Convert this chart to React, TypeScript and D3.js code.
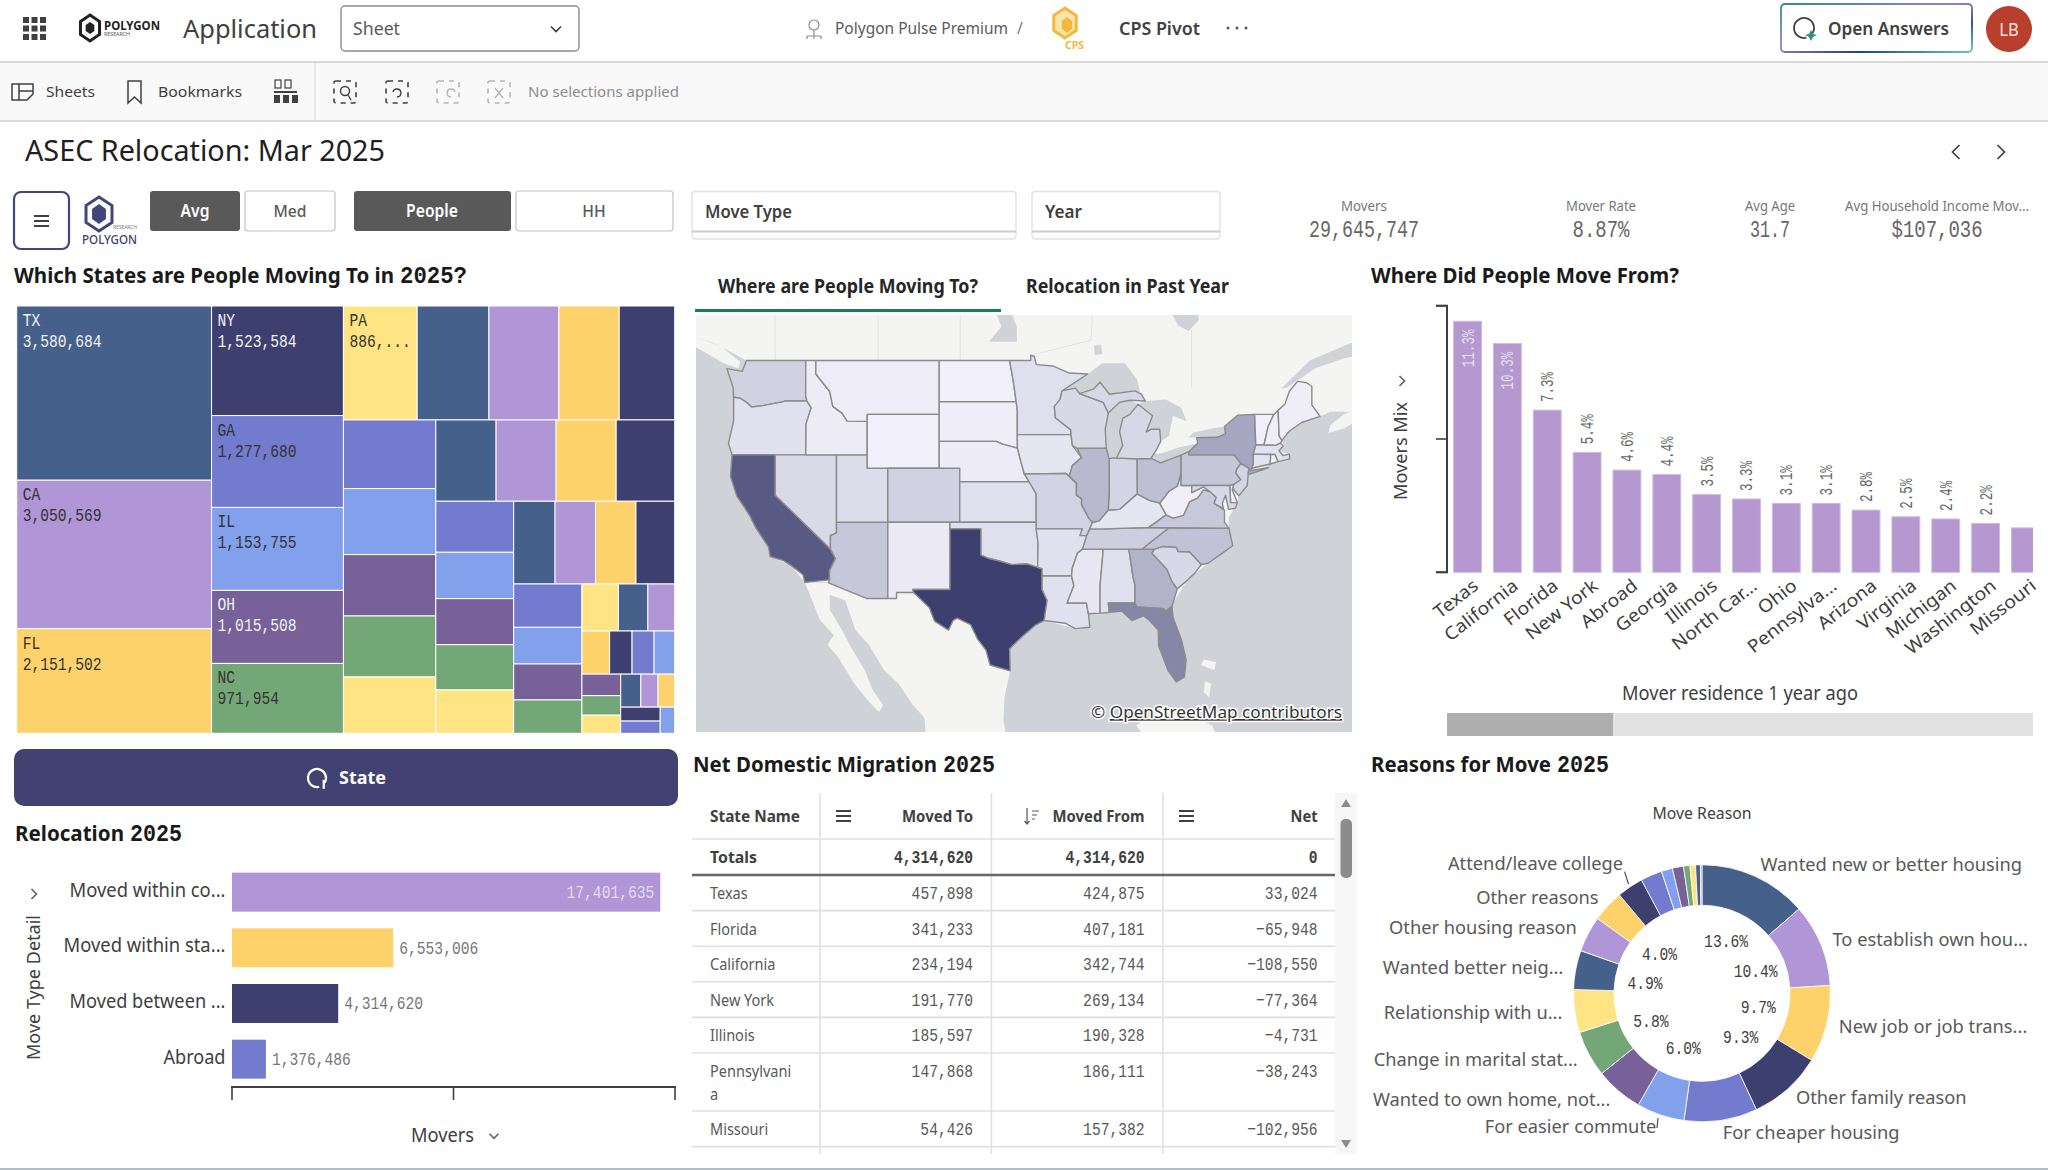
import React from 'react';
import * as d3 from 'd3';

const SANS = '"Noto Sans", sans-serif';
const MONO = '"Liberation Mono", monospace';

// Treemap: movers by state, biggest first
const stateCodes = ['TX', 'CA', 'FL', 'NY', 'GA', 'IL', 'OH', 'NC', 'PA', 'AZ', 'VA', 'TN', 'WA', 'CO', 'MO', 'NJ', 'IN', 'MI', 'WI', 'SC', 'MD', 'NV', 'UT', 'MN', 'KS', 'OK', 'OR', 'AL', 'LA', 'AR', 'MA', 'CT', 'KY', 'IA', 'MS', 'NM', 'ID', 'NE', 'MT', 'SD', 'ME', 'NH', 'WV', 'RI', 'DE', 'HI', 'ND', 'VT', 'AK', 'WY', 'DC'];
const stateMovers = [3580684, 3050569, 2151502, 1523584, 1277680, 1153755, 1015508, 971954, 886412, 862000, 841000, 725000, 667000, 669000, 643000, 598000, 594000, 549000, 517000, 515000, 515000, 502000, 419000, 381000, 378000, 372000, 356000, 361000, 353000, 353000, 338000, 312000, 264000, 259000, 240000, 181000, 146000, 133000, 126000, 102000, 100000, 94000, 88000, 80000, 74000, 70000, 60000, 58000, 58000, 51000, 40000];
const labelledStates = 9;
// order in which the tiles are cut off the remaining space
const stripPlan: [string, number][] = [['col', 3], ['col', 5], ['row', 5], ['col', 5], ['row', 4], ['col', 5], ['row', 4], ['col', 4], ['row', 3], ['row', 4], ['col', 3], ['row', 3], ['col', 2], ['col', 1]];
const palette = ['#46608c', '#b096d6', '#fdd26a', '#3d3f6e', '#727bcd', '#82a0ec', '#786099', '#73a778', '#ffe483'];

// Bars: where people moved from
const fromStates = ['Texas', 'California', 'Florida', 'New York', 'Abroad', 'Georgia', 'Illinois', 'North Car...', 'Ohio', 'Pennsylva...', 'Arizona', 'Virginia', 'Michigan', 'Washington', 'Missouri'];
const fromMix = [11.3, 10.3, 7.3, 5.4, 4.6, 4.4, 3.5, 3.3, 3.1, 3.1, 2.8, 2.5, 2.4, 2.2, 2.0];
const mixTicks = [0, 6, 12];

// Relocation type
const moveTypes = ['Moved within co...', 'Moved within sta...', 'Moved between ...', 'Abroad'];
const moveValues = [17401635, 6553006, 4314620, 1376486];
const moveTicks = [0, 9000000, 18000000];

// Net migration table
const tableStates = ['Texas', 'Florida', 'California', 'New York', 'Illinois', 'Pennsylvani\na', 'Missouri'];
const movedTo = [457898, 341233, 234194, 191770, 185597, 147868, 54426];
const movedFrom = [424875, 407181, 342744, 269134, 190328, 186111, 157382];
const netMoves = [33024, -65948, -108550, -77364, -4731, -38243, -102956];
const tableTotals = ['4,314,620', '4,314,620', '0'];

// Donut: reasons for move
const reasonShares = [13.6, 10.4, 9.7, 9.3, 9.2, 6.0, 6.0, 5.8, 5.4, 4.9, 4.5, 4.0, 3.3, 2.7, 1.4, 1.4, 0.8, 0.7, 0.6, 0.2];
const reasonLabels = ['Wanted new or better housing', 'To establish own hou...', 'New job or job trans...', 'Other family reason', 'For cheaper housing', 'For easier commute', 'Wanted to own home, not...', 'Change in marital stat...', 'Relationship with u...', 'Wanted better neig...', 'Other housing reason', 'Other reasons', 'Attend/leave college'];
const reasonPctShown = [true, true, true, true, false, true, false, true, false, true, false, true];

// KPIs
const kpiLabels = ['Movers', 'Mover Rate', 'Avg Age', 'Avg Household Income Mov...'];
const kpiValues = ['29,645,747', '8.87%', '31.7', '$107,036'];

// Simplified outlines, lon/lat
const statePolys: Record<string, number[][][]> = {
  WA: [[[-124.7, 48.4], [-123.2, 48.2], [-122.8, 49], [-117.03, 49], [-117.04, 46.4], [-116.92, 46], [-118.98, 46], [-119.3, 45.93], [-121.2, 45.65], [-122.3, 45.55], [-122.8, 45.9], [-123.4, 46.2], [-124.05, 46.27], [-124.1, 47]]],
  OR: [[[-124.05, 46.27], [-123.4, 46.2], [-122.8, 45.9], [-122.3, 45.55], [-121.2, 45.65], [-119.3, 45.93], [-118.98, 46], [-116.92, 46], [-116.5, 45.5], [-117, 44.3], [-117.03, 42], [-124.2, 42], [-124.55, 42.85], [-124.05, 44.5]]],
  CA: [[[-124.2, 42], [-120, 42], [-120, 39], [-114.63, 35], [-114.14, 34.3], [-114.72, 33.4], [-114.72, 32.72], [-117.12, 32.53], [-117.3, 33.1], [-118.4, 33.75], [-119.2, 34.15], [-120.5, 34.45], [-120.65, 35.15], [-121.9, 36.6], [-122.5, 37.5], [-123, 38.1], [-123.75, 38.95], [-124.35, 40.4]]],
  NV: [[[-120, 42], [-114.04, 42], [-114.04, 36.2], [-114.63, 36], [-114.63, 35], [-120, 39]]],
  AZ: [[[-114.63, 36], [-114.04, 36.2], [-114.04, 37], [-109.05, 37], [-109.05, 31.33], [-111.07, 31.33], [-114.81, 32.5], [-114.72, 32.72], [-114.72, 33.4], [-114.14, 34.3], [-114.63, 35]]],
  UT: [[[-114.04, 42], [-111.05, 42], [-111.05, 41], [-109.05, 41], [-109.05, 37], [-114.04, 37]]],
  ID: [[[-117.03, 49], [-116.05, 49], [-116.05, 48], [-114.7, 46.7], [-114.4, 45.6], [-113.5, 45.1], [-113, 44.5], [-111.05, 44.48], [-111.05, 42], [-117.03, 42], [-117, 44.3], [-116.5, 45.5], [-116.92, 46], [-117.04, 46.4]]],
  MT: [[[-116.05, 49], [-104.05, 49], [-104.05, 45], [-111.05, 45], [-111.05, 44.48], [-113, 44.5], [-113.5, 45.1], [-114.4, 45.6], [-114.7, 46.7], [-116.05, 48]]],
  WY: [[[-111.05, 45], [-104.05, 45], [-104.05, 41], [-111.05, 41]]],
  CO: [[[-109.05, 41], [-102.05, 41], [-102.05, 37], [-109.05, 37]]],
  NM: [[[-109.05, 37], [-103, 37], [-103, 32], [-106.62, 32], [-106.53, 31.78], [-108.2, 31.78], [-108.2, 31.33], [-109.05, 31.33]]],
  ND: [[[-104.05, 49], [-97.2, 49], [-96.85, 47.5], [-96.56, 45.94], [-104.05, 45.94]]],
  SD: [[[-104.05, 45.94], [-96.56, 45.94], [-96.45, 45.3], [-96.45, 43.5], [-96.44, 42.5], [-97.9, 42.8], [-98.5, 43], [-104.05, 43]]],
  NE: [[[-104.05, 43], [-98.5, 43], [-97.9, 42.8], [-96.44, 42.5], [-96.1, 41.5], [-95.77, 40.58], [-95.3, 40], [-102.05, 40], [-102.05, 41], [-104.05, 41]]],
  KS: [[[-102.05, 40], [-95.3, 40], [-94.62, 39.1], [-94.62, 37], [-102.05, 37]]],
  OK: [[[-103, 37], [-94.62, 37], [-94.43, 35.4], [-94.48, 33.64], [-95.5, 33.9], [-97, 33.85], [-98.1, 34.1], [-99.2, 34.3], [-100, 34.56], [-100, 36.5], [-103, 36.5]]],
  TX: [[[-106.62, 32], [-103, 32], [-103, 36.5], [-100, 36.5], [-100, 34.56], [-99.2, 34.3], [-98.1, 34.1], [-97, 33.85], [-95.5, 33.9], [-94.48, 33.64], [-94.04, 33.55], [-94.04, 31.99], [-93.55, 31.2], [-93.84, 29.7], [-94.7, 29.35], [-96, 28.5], [-97.2, 27.6], [-97.15, 25.96], [-99.1, 26.4], [-99.5, 27.5], [-100.3, 28.3], [-101, 29.4], [-102.3, 29.88], [-102.7, 29.7], [-103.15, 28.98], [-104.5, 29.65], [-105, 30.65], [-106.53, 31.78]]],
  MN: [[[-97.2, 49], [-95.15, 49], [-95.15, 49.4], [-94.8, 49.3], [-94.6, 48.7], [-93, 48.6], [-91.4, 48.07], [-89.6, 48], [-92.1, 46.75], [-92.3, 46.1], [-92.85, 45.6], [-92.75, 44.75], [-91.25, 43.85], [-91.22, 43.5], [-96.45, 43.5], [-96.45, 45.3], [-96.56, 45.94], [-96.85, 47.5]]],
  IA: [[[-96.45, 43.5], [-91.22, 43.5], [-91.1, 42.7], [-90.2, 41.8], [-91.1, 41.2], [-91.4, 40.4], [-91.73, 40.61], [-95.77, 40.58], [-96.1, 41.5], [-96.44, 42.5]]],
  MO: [[[-95.77, 40.58], [-91.73, 40.61], [-91.4, 40.4], [-90.7, 39.9], [-90.7, 39], [-90.2, 38.75], [-90.2, 38.3], [-89.5, 37.3], [-89.15, 36.98], [-89.4, 36.5], [-89.7, 36], [-90.37, 36], [-90.15, 36.5], [-94.62, 36.5], [-94.62, 39.1], [-95.3, 40]]],
  AR: [[[-94.62, 36.5], [-90.15, 36.5], [-90.37, 36], [-89.7, 36], [-90.1, 35], [-90.6, 34.7], [-91.1, 33.6], [-91.17, 33], [-94.04, 33], [-94.04, 33.55], [-94.48, 33.64], [-94.43, 35.4]]],
  LA: [[[-94.04, 33], [-91.17, 33], [-90.95, 32.3], [-91.6, 31], [-89.73, 31], [-89.53, 30.2], [-89.4, 29.2], [-90.8, 29.1], [-91.8, 29.5], [-93.84, 29.7], [-93.55, 31.2], [-94.04, 31.99]]],
  MS: [[[-90.1, 35], [-88.2, 35], [-88.1, 34.9], [-88.4, 32.3], [-88.4, 30.25], [-89.53, 30.2], [-89.73, 31], [-91.6, 31], [-90.95, 32.3], [-91.17, 33], [-91.1, 33.6], [-90.6, 34.7]]],
  AL: [[[-88.2, 35], [-85.6, 35], [-85.18, 32.87], [-85, 32.3], [-85, 31], [-87.6, 31], [-87.5, 30.3], [-88.4, 30.25], [-88.4, 32.3], [-88.1, 34.9]]],
  GA: [[[-85.6, 35], [-83.1, 35], [-83.35, 34.7], [-81.9, 33.5], [-81.4, 32.6], [-80.9, 32.05], [-81.4, 30.75], [-82.05, 30.36], [-82.2, 30.57], [-84.86, 30.7], [-85, 31], [-85, 32.3], [-85.18, 32.87]]],
  FL: [[[-87.6, 31], [-85, 31], [-84.86, 30.7], [-82.2, 30.57], [-82.05, 30.36], [-81.4, 30.75], [-81.3, 29.9], [-80.5, 28.3], [-80.03, 26.8], [-80.2, 25.5], [-81, 25.15], [-81.8, 26], [-82.7, 27.8], [-82.75, 29], [-83.6, 29.7], [-84.2, 30.05], [-85.3, 29.7], [-86.3, 30.4], [-87.5, 30.3]]],
  SC: [[[-83.35, 34.7], [-83.1, 35], [-82.3, 35.2], [-81, 35.15], [-80.8, 34.82], [-79.7, 34.8], [-78.55, 33.86], [-79.2, 33.2], [-79.9, 32.7], [-80.9, 32.05], [-81.4, 32.6], [-81.9, 33.5]]],
  NC: [[[-84.32, 35], [-83.1, 35.75], [-81.68, 36.59], [-75.87, 36.55], [-75.5, 35.25], [-76.5, 34.7], [-77.9, 33.95], [-78.55, 33.86], [-79.7, 34.8], [-80.8, 34.82], [-81, 35.15], [-82.3, 35.2], [-83.1, 35]]],
  TN: [[[-89.4, 36.5], [-88.05, 36.5], [-83.68, 36.6], [-81.68, 36.59], [-83.1, 35.75], [-84.32, 35], [-85.6, 35], [-88.2, 35], [-90.1, 35], [-89.7, 36]]],
  KY: [[[-89.4, 36.5], [-89.15, 36.98], [-88.5, 37.1], [-87.6, 37.9], [-86.5, 37.95], [-85.4, 38.7], [-84.8, 39.1], [-83.7, 38.65], [-82.6, 38.42], [-81.97, 37.54], [-83.68, 36.6], [-88.05, 36.5]]],
  VA: [[[-83.68, 36.6], [-81.97, 37.54], [-81.3, 37.3], [-80.3, 37.5], [-79.7, 38.5], [-78.9, 38.8], [-78.35, 39.4], [-77.75, 39.3], [-77.1, 38.85], [-77.3, 38.4], [-76.3, 37.9], [-76.3, 37], [-75.87, 36.55], [-81.68, 36.59]]],
  WV: [[[-82.6, 38.42], [-82.1, 38.9], [-81.7, 39.3], [-80.87, 39.7], [-80.52, 40.64], [-80.52, 39.72], [-79.48, 39.72], [-79.48, 39.2], [-78.35, 39.63], [-77.75, 39.3], [-78.35, 39.4], [-78.9, 38.8], [-79.7, 38.5], [-80.3, 37.5], [-81.3, 37.3], [-81.97, 37.54]]],
  OH: [[[-84.82, 41.7], [-83.45, 41.73], [-82.5, 41.4], [-81.3, 41.75], [-80.52, 41.98], [-80.52, 40.64], [-80.87, 39.7], [-81.7, 39.3], [-82.1, 38.9], [-82.6, 38.42], [-83.7, 38.65], [-84.8, 39.1]]],
  IN: [[[-87.52, 41.7], [-87.2, 41.76], [-86.8, 41.76], [-84.82, 41.7], [-84.8, 39.1], [-85.4, 38.7], [-86.5, 37.95], [-87.6, 37.9], [-87.52, 39.3]]],
  IL: [[[-90.65, 42.5], [-87.8, 42.5], [-87.52, 41.7], [-87.52, 39.3], [-87.6, 37.9], [-88.5, 37.1], [-89.15, 36.98], [-89.5, 37.3], [-90.2, 38.3], [-90.2, 38.75], [-90.7, 39], [-90.7, 39.9], [-91.4, 40.4], [-91.1, 41.2], [-90.2, 41.8]]],
  WI: [[[-92.1, 46.75], [-90.8, 46.95], [-90.4, 46.55], [-88.1, 45.9], [-87.6, 45.1], [-87.9, 43.9], [-87.8, 42.5], [-90.65, 42.5], [-91.1, 42.7], [-91.22, 43.5], [-91.25, 43.85], [-92.75, 44.75], [-92.85, 45.6], [-92.3, 46.1]]],
  MI: [
    [[-90.4, 46.55], [-89, 46.9], [-88.4, 47.4], [-87.5, 46.5], [-85, 46.75], [-84.4, 46.5], [-84, 46], [-85.5, 46.05], [-86.5, 45.9], [-87.6, 45.1], [-88.1, 45.9]],
    [[-86.8, 41.76], [-84.82, 41.7], [-83.45, 41.73], [-82.9, 42.4], [-82.5, 43], [-82.6, 43.9], [-83.4, 43.9], [-83.9, 43.7], [-83.3, 44.9], [-84.7, 45.75], [-85.5, 45], [-86.2, 44.7], [-86.5, 43.7], [-86.2, 42.7]],
  ],
  PA: [[[-80.52, 41.98], [-79.76, 42.25], [-79.76, 42], [-75.35, 42], [-74.7, 41.35], [-75.1, 40.95], [-75.2, 40.65], [-74.72, 40.15], [-75.4, 39.8], [-75.79, 39.72], [-80.52, 39.72], [-80.52, 40.64]]],
  NY: [[[-79.76, 42.25], [-78.9, 42.85], [-79, 43.27], [-77, 43.3], [-76.2, 43.55], [-76.3, 44.1], [-75, 44.95], [-73.35, 45], [-73.3, 43.6], [-73.25, 42.75], [-73.5, 42.05], [-73.5, 41.3], [-73.65, 41], [-73.75, 40.85], [-72, 41.05], [-73.9, 40.55], [-74, 40.7], [-73.9, 41], [-74.7, 41.35], [-75.35, 42], [-79.76, 42]]],
  NJ: [[[-74.7, 41.35], [-73.9, 41], [-74, 40.7], [-74, 40.4], [-74.1, 39.7], [-74.9, 38.95], [-75.5, 39.5], [-75.4, 39.8], [-74.72, 40.15], [-75.2, 40.65], [-75.1, 40.95]]],
  DE: [[[-75.79, 39.72], [-75.4, 39.8], [-75.55, 39.4], [-75.05, 38.45], [-75.7, 38.46]]],
  MD: [[[-79.48, 39.72], [-75.79, 39.72], [-75.7, 38.46], [-75.05, 38.45], [-75.24, 38.03], [-75.9, 37.95], [-76.2, 39], [-76.5, 38.4], [-76.4, 38], [-77.3, 38.4], [-77.1, 38.85], [-77.75, 39.3], [-78.35, 39.63], [-79.48, 39.2]]],
  VT: [[[-73.35, 45], [-71.5, 45], [-72.05, 44.1], [-72.46, 42.73], [-73.25, 42.75], [-73.3, 43.6]]],
  NH: [[[-71.5, 45], [-71.08, 45.3], [-70.98, 43.4], [-70.7, 43.07], [-70.85, 42.87], [-71.3, 42.7], [-72.46, 42.73], [-72.05, 44.1]]],
  ME: [[[-71.08, 45.3], [-70.4, 45.8], [-70, 46.7], [-69.2, 47.45], [-68.3, 47.35], [-67.8, 47.07], [-67.8, 45.7], [-67, 44.85], [-68.8, 44.4], [-70, 43.75], [-70.7, 43.07], [-70.98, 43.4]]],
  MA: [[[-73.5, 42.05], [-73.25, 42.75], [-71.3, 42.7], [-70.85, 42.87], [-70.6, 42.65], [-71, 42.3], [-70.6, 41.95], [-70, 42.05], [-69.95, 41.7], [-71.1, 41.5], [-71.38, 42.02]]],
  CT: [[[-73.5, 42.05], [-71.8, 42.02], [-71.85, 41.32], [-73.65, 41], [-73.5, 41.3]]],
  RI: [[[-71.8, 42.02], [-71.38, 42.02], [-71.1, 41.5], [-71.85, 41.32]]],
};

const landPolys: number[][][] = [
  [[-130, 54], [-62, 54], [-62, 45.3], [-64.5, 45.2], [-66, 45.2], [-67, 44.85], [-68.8, 44.4], [-70, 43.75], [-70.7, 43.07], [-70.6, 42.65], [-71, 42.3], [-70, 42.05], [-69.95, 41.7], [-71.85, 41.32], [-73.9, 40.55], [-74, 39.9], [-74.9, 38.95], [-75.05, 38.45], [-75.9, 37.3], [-75.87, 36.55], [-75.5, 35.25], [-77.9, 33.95], [-79.9, 32.7], [-81.3, 31], [-81.3, 29.9], [-80.03, 26.8], [-80.2, 25.5], [-81, 25.15], [-81.8, 26], [-82.7, 27.8], [-82.75, 29], [-84.2, 30.05], [-85.3, 29.7], [-86.3, 30.4], [-88.4, 30.25], [-89.53, 30.2], [-89.4, 29.2], [-90.8, 29.1], [-93.84, 29.7], [-94.7, 29.35], [-96, 28.5], [-97.2, 27.6], [-97.15, 25.96], [-97.7, 24], [-97.8, 22.3], [-97.5, 21], [-105.3, 21], [-105.5, 22.5], [-106.6, 23.4], [-108, 25], [-109.4, 26], [-110.9, 27.9], [-112.2, 29], [-113.2, 31.2], [-114.7, 31.6], [-114.7, 30.5], [-113.5, 29], [-112.7, 27.8], [-111.3, 26], [-110.5, 24.5], [-109.5, 23.4], [-109.9, 22.9], [-110.8, 23.6], [-112.3, 25], [-113.9, 27], [-114.9, 27.9], [-114.3, 28.6], [-115.7, 29.8], [-116.3, 31], [-117.12, 32.53], [-118.4, 33.75], [-120.5, 34.45], [-120.65, 35.15], [-121.9, 36.6], [-122.5, 37.5], [-123.75, 38.95], [-124.35, 40.4], [-124.2, 42], [-124.55, 42.85], [-124.05, 44.5], [-124.1, 47], [-124.7, 48.4], [-123.2, 48.2], [-122.8, 49], [-124.5, 49.7], [-126, 50.3], [-128, 50.8], [-130, 52]],
  [[-125, 48.8], [-123.6, 48.4], [-123.4, 48.9], [-125.2, 50], [-127.8, 50.8], [-128.4, 50.3]],
  [[-66.2, 43.6], [-64.6, 44], [-63, 44.7], [-62, 45.2], [-63.5, 45.4], [-64.7, 45], [-66, 44.2]],
  [[-84.9, 21.9], [-82.5, 23.15], [-80.5, 23.05], [-77.5, 21.9], [-77, 21], [-84, 21]],
  [[-78.3, 26.8], [-77.1, 26.6], [-77.3, 26], [-78.6, 26.4]],
  [[-78.2, 25.2], [-77.6, 25], [-77.8, 24], [-78.3, 24.4]],
];

const waterPolys: number[][][] = [
  // great lakes
  [[-92.1, 46.75], [-89.6, 48], [-88.2, 48.8], [-86, 48.8], [-84.8, 47.6], [-84.5, 46.6], [-85, 46.75], [-87.5, 46.5], [-88.4, 47.4], [-89, 46.9], [-90.4, 46.55]],
  [[-87.8, 42.5], [-87.52, 41.7], [-86.8, 41.76], [-86.2, 42.7], [-86.5, 43.7], [-86.2, 44.7], [-85.5, 45], [-84.7, 45.75], [-85.5, 46.05], [-86.5, 45.9], [-87.6, 45.1], [-87.9, 43.9]],
  [[-84.7, 45.75], [-83.3, 44.9], [-83.9, 43.7], [-83.4, 43.9], [-82.6, 43.9], [-82.5, 43], [-81.7, 43.4], [-81.3, 44.9], [-80, 44.5], [-80.5, 45.5], [-82, 46.1], [-84, 46]],
  [[-83.45, 41.73], [-82.5, 41.4], [-81.3, 41.75], [-80.52, 41.98], [-79, 42.7], [-78.9, 42.85], [-80.5, 42.6], [-82.5, 42.1], [-83.1, 42.1]],
  [[-79, 43.27], [-77, 43.3], [-76.2, 43.55], [-76.3, 44.1], [-77.5, 43.95], [-79.3, 43.65], [-79.8, 43.3]],
  // canadian water
  [[-88.9, 49.4], [-88.2, 49.5], [-88.3, 50.2], [-89, 50.1]],
  [[-99.2, 50.4], [-96.5, 50.4], [-96.5, 51.5], [-97.5, 53.5], [-99, 53.5], [-98, 51.5]],
  [[-80.6, 54], [-79, 54], [-78.8, 52], [-79.8, 51.2], [-80.8, 51.6], [-81.8, 53]],
  [[-123, 54], [-121.8, 54], [-122.4, 53]],
  [[-62, 50.6], [-64, 50.3], [-68, 49], [-70.8, 46.9], [-70.2, 47], [-67.5, 48.4], [-64.5, 49.2], [-62, 49.5]],
];

const faintLines: number[][][] = [
  [[-120, 49], [-120, 54]], [[-110, 49], [-110, 54]], [[-102, 49], [-102, 54]], [[-95.15, 49.4], [-89.3, 50.5], [-89, 54]], [[-79.5, 47], [-79.5, 51.3]],
  [[-117.12, 32.53], [-114.81, 32.5], [-111.07, 31.33], [-108.2, 31.33]],
];

// Page geometry
const treeBox = { x: 16.7, y: 306, w: 658, h: 427.3 };
const lonScale = d3.scaleLinear().domain([-109.05, -64.05]).range([887.8, 1350.4]);
const latScale = d3.scaleLinear().domain([41, 21]).range([468.3, 737.7]);
const mapPath = d3.geoPath(d3.geoTransform({
  point(lon: number, lat: number) {
    (this as any).stream.point(lonScale(lon), latScale(lat));
  },
}));
const closed = (r: number[][]) => [...r, r[0]];
const polyD = (r: number[][]) => mapPath({ type: 'Polygon', coordinates: [closed(r)] } as any) || '';
const lineD = (r: number[][]) => mapPath({ type: 'LineString', coordinates: r } as any) || '';

// cuts the tiles strip by strip, the way the reference lays them out
function stripTile(node: any, x0: number, y0: number, x1: number, y1: number) {
  let left = node.value;
  let at = 0;
  let ax = x0;
  let ay = y0;
  stripPlan.forEach(([dir, n]) => {
    const group = node.children.slice(at, at + n);
    const value = d3.sum(group, (c: any) => c.value);
    if (dir === 'col') {
      const w = ((x1 - ax) * value) / left;
      d3.treemapSlice({ children: group, value } as any, ax, ay, ax + w, y1);
      ax += w;
    } else {
      const h = ((y1 - ay) * value) / left;
      d3.treemapDice({ children: group, value } as any, ax, ay, x1, ay + h);
      ay += h;
    }
    at += n;
    left -= value;
  });
}

const treeRoot = d3
  .treemap<any>()
  .size([treeBox.w, treeBox.h])
  .tile(stripTile as any)(
    d3.hierarchy<any>({ children: stateCodes.map((code, i) => ({ code, value: stateMovers[i] })) }).sum((d: any) => d.value || 0),
  );

const fmt = d3.format(',');
const moverByCode = new Map(stateCodes.map((c, i) => [c, stateMovers[i]]));
const choropleth = d3.scaleLinear<string>().domain([0, d3.max(stateMovers) as number]).range(['#f3f2fc', '#3d3f6e']);
const textOn = (fill: string) => (d3.lab(fill).l > 50 ? '#333333' : '#f2f2f2');

type TProps = {
  x: number; y: number; size?: number; fill?: string; anchor?: string; weight?: number;
  sx?: number; w?: number; rotate?: number; family?: string; children?: React.ReactNode;
};
const T = ({ x, y, size = 17, fill = '#404040', anchor = 'start', weight = 400, sx = 0.92, w, rotate = 0, family = SANS, children }: TProps) => (
  <text
    transform={`translate(${x},${y})${rotate ? ` rotate(${rotate})` : ''}${w ? '' : ` scale(${sx},1)`}`}
    fontSize={size}
    fontFamily={family}
    fontWeight={weight}
    fill={fill}
    textAnchor={anchor as any}
    textLength={w}
    lengthAdjust={w ? 'spacingAndGlyphs' : undefined}
  >
    {children}
  </text>
);

const Num = (p: TProps) => <T family={MONO} size={19} sx={0.77} fill="#595959" {...p} />;

// the year is a separate text so its digits can be monospaced
const Title = ({ x, y, w, text, year, yearW = 52 }: { x: number; y: number; w: number; text: string; year?: string; yearW?: number }) => (
  <g>
    <T x={x} y={y} w={year ? w - yearW - 6 : w} size={21} weight={700} fill="#1a1a1a">{text}</T>
    {year ? <T x={x + w - yearW} y={y} w={yearW} size={24} weight={700} family={MONO} fill="#1a1a1a">{year}</T> : null}
  </g>
);

const hex = (cx: number, cy: number, rx: number, ry: number) =>
  d3.range(6).map((i) => {
    const a = (Math.PI / 3) * i;
    return `${cx + rx * Math.sin(a)},${cy - ry * Math.cos(a)}`;
  }).join(' ');

const Chevron = ({ x, y, dir, size = 5, color = '#666666' }: { x: number; y: number; dir: string; size?: number; color?: string }) => {
  const d = {
    down: `M${x - size},${y - size / 2}L${x},${y + size / 2}L${x + size},${y - size / 2}`,
    right: `M${x - size / 2},${y - size}L${x + size / 2},${y}L${x - size / 2},${y + size}`,
    left: `M${x + size / 2},${y - size}L${x - size / 2},${y}L${x + size / 2},${y + size}`,
  }[dir];
  return <path d={d} fill="none" stroke={color} strokeWidth={1.7} />;
};

const Burger = ({ x, y, w = 15 }: { x: number; y: number; w?: number }) => (
  <g stroke="#404040" strokeWidth={2}>
    {[-5, 0, 5].map((d) => <line key={d} x1={x} x2={x + w} y1={y + d} y2={y + d} />)}
  </g>
);

const Reload = ({ cx, cy, r, color }: { cx: number; cy: number; r: number; color: string }) => (
  <g fill="none" stroke={color} strokeWidth={2.2}>
    <path d={d3.arc()({ innerRadius: r, outerRadius: r, startAngle: 2.9, endAngle: 2.9 + 5.5 } as any) || ''} transform={`translate(${cx},${cy})`} />
    <path d={`M${cx + r * 0.75},${cy + r * 0.2}v${r}`} />
  </g>
);

const DashBox = ({ x, color }: { x: number; color: string }) => (
  <rect x={x} y={81} width={22} height={22} rx={2} fill="none" stroke={color} strokeWidth={1.6} strokeDasharray="5 5" />
);

const Header = () => (
  <g>
    <g fill="#404040">
      {d3.range(9).map((i) => <rect key={i} x={23 + (i % 3) * 8.5} y={17 + Math.floor(i / 3) * 8.5} width={6} height={6} />)}
    </g>
    <polygon points={hex(90, 28, 11, 13)} fill="none" stroke="#222222" strokeWidth={3} />
    <polygon points={hex(90, 28, 5, 6)} fill="#222222" />
    <T x={104} y={30} size={13} w={56} weight={700} fill="#222222">POLYGON</T>
    <T x={104} y={36} size={6} w={26} fill="#555555">RESEARCH</T>
    <T x={183} y={38} size={26} w={134} fill="#404040">Application</T>
    <rect x={341} y={6} width={238} height={45} rx={4} fill="#ffffff" stroke="#8c8c8c" strokeWidth={1.4} />
    <T x={353} y={35} size={18} w={47} fill="#595959">Sheet</T>
    <Chevron x={556} y={29} dir="down" size={5} color="#404040" />

    <g fill="none" stroke="#8c8c8c" strokeWidth={1.2}>
      <circle cx={814} cy={25} r={5} />
      <path d="M814,30v6M807,36h14M807,36v3M814,36v3M821,36v3" />
    </g>
    <T x={835} y={34} size={16.5} w={173} fill="#5a5a5a">Polygon Pulse Premium</T>
    <T x={1017} y={34} size={17} fill="#777777">/</T>

    <polygon points={hex(1065, 23, 13, 15)} fill="#fbe3ac" stroke="#f2b840" strokeWidth={3} />
    <polygon points={hex(1067, 25, 6, 8)} fill="#f2b840" />
    <T x={1065} y={49} size={10} w={19} weight={700} fill="#f2b840">CPS</T>
    <T x={1119} y={35} size={18} w={81} weight={600} fill="#404040">CPS Pivot</T>
    <g fill="#555555">{[1228, 1237, 1246].map((x) => <circle key={x} cx={x} cy={28} r={1.5} />)}</g>

    <defs>
      <linearGradient id="answersEdge" x1="0" y1="0" x2="1" y2="1">
        <stop offset="0" stopColor="#2f8f83" />
        <stop offset="0.45" stopColor="#9a7fc9" />
        <stop offset="0.7" stopColor="#24466b" />
        <stop offset="1" stopColor="#62c9b4" />
      </linearGradient>
    </defs>
    <rect x={1781} y={4} width={191} height={48} rx={4} fill="#ffffff" stroke="url(#answersEdge)" strokeWidth={1.8} />
    <g fill="none" stroke="#404040" strokeWidth={1.8}>
      <path d={d3.arc()({ innerRadius: 10, outerRadius: 10, startAngle: 2.9, endAngle: 8.4 } as any) || ''} transform="translate(1804,28)" />
    </g>
    <path d="M1811,30l2,4l4,1l-4,2l-2,4l-2,-4l-4,-2l4,-1z" fill="#2f8f83" />
    <T x={1828} y={35} size={18} w={121} weight={600} fill="#404040">Open Answers</T>
    <circle cx={2009} cy={29} r={23} fill="#b83f2b" />
    <T x={2009} y={35.5} size={18} anchor="middle" fill="#f5e6e2">LB</T>
    <line x1={0} x2={2048} y1={62} y2={62} stroke="#d9d9d9" strokeWidth={2} />

    <rect x={0} y={63} width={2048} height={58} fill="#f9f9f9" />
    <line x1={0} x2={2048} y1={121} y2={121} stroke="#d9d9d9" strokeWidth={2} />
    <line x1={315} x2={315} y1={63} y2={121} stroke="#e0e0e0" strokeWidth={1.4} />
    <g fill="none" stroke="#404040" strokeWidth={1.5}>
      <path d="M12,84h21v10l-6,6h-15zM19,84v16M19,91h14" />
      <path d="M128,81h13v22l-6.5,-6l-6.5,6z" />
    </g>
    <T x={46} y={97} size={15} w={49} fill="#404040">Sheets</T>
    <T x={158} y={97} size={15} w={84} fill="#404040">Bookmarks</T>
    <g fill="#404040">
      <rect x={275} y={80} width={6} height={8} fill="none" stroke="#404040" strokeWidth={1.2} />
      <rect x={285} y={80} width={6} height={8} fill="none" stroke="#404040" strokeWidth={1.2} />
      <rect x={274} y={91} width={23} height={2} />
      {[274, 283, 292].map((x) => <rect key={x} x={x} y={95} width={6} height={8} />)}
    </g>
    <DashBox x={334} color="#404040" />
    <DashBox x={386} color="#404040" />
    <DashBox x={437} color="#b5b5b5" />
    <DashBox x={488} color="#b5b5b5" />
    <circle cx={345} cy={91} r={4.5} fill="none" stroke="#404040" strokeWidth={1.4} />
    <path d="M348,95l3,5" stroke="#404040" strokeWidth={1.4} />
    <path d="M393,92a4,4 0 1 1 4,5" fill="none" stroke="#404040" strokeWidth={1.4} />
    <path d="M455,92a4,4 0 1 0 -4,5" fill="none" stroke="#b5b5b5" strokeWidth={1.4} />
    <path d="M495,88l8,10M503,88l-8,10" stroke="#b5b5b5" strokeWidth={1.4} />
    <T x={528} y={97} size={15} w={151} fill="#8c8c8c">No selections applied</T>

    <T x={25} y={161} size={29} w={360} fill="#1f1f1f">ASEC Relocation: Mar 2025</T>
    <Chevron x={1956} y={152} dir="left" size={7} color="#404040" />
    <Chevron x={2001} y={152} dir="right" size={7} color="#404040" />

    <rect x={14} y={192} width={55} height={57} rx={7} fill="#ffffff" stroke="#44457a" strokeWidth={2.2} />
    <Burger x={34} y={221} />
    <polygon points={hex(99, 214, 15, 17)} fill="none" stroke="#44457a" strokeWidth={3} />
    <polygon points={hex(99, 214, 8, 10)} fill="#44457a" />
    <T x={82} y={244} size={12} w={55} fill="#3d3f6e" weight={500}>POLYGON</T>
    <T x={113} y={229} size={5} w={24} fill="#777777">RESEARCH</T>

    <rect x={150} y={191} width={90} height={40} rx={3} fill="#595959" />
    <T x={195} y={217} size={17} weight={600} anchor="middle" fill="#ffffff">Avg</T>
    <rect x={245} y={191} width={90} height={40} rx={3} fill="#ffffff" stroke="#c4c4c4" strokeWidth={1.2} />
    <T x={290} y={217} size={17} weight={500} anchor="middle" fill="#595959">Med</T>
    <rect x={354} y={191} width={157} height={40} rx={3} fill="#595959" />
    <T x={432} y={217} size={17} weight={600} anchor="middle" fill="#ffffff">People</T>
    <rect x={516} y={191} width={157} height={40} rx={3} fill="#ffffff" stroke="#c4c4c4" strokeWidth={1.2} />
    <T x={594} y={217} size={17} weight={500} anchor="middle" fill="#595959">HH</T>

    {[[692, 324, 'Move Type', 87], [1032, 188, 'Year', 37]].map(([x, w, label, tw]) => (
      <g key={label as string}>
        <rect x={x as number} y={191.5} width={w as number} height={47.5} rx={3} fill="#ffffff" stroke="#e2e2e2" strokeWidth={1.4} />
        <line x1={x as number} x2={(x as number) + (w as number)} y1={231.5} y2={231.5} stroke="#cccccc" strokeWidth={2} />
        <T x={(x as number) + 13} y={218} size={17} w={tw as number} weight={600} fill="#404040">{label}</T>
      </g>
    ))}

    {kpiLabels.map((label, i) => {
      const cx = [1364, 1601, 1770, 1937][i];
      return (
        <g key={label}>
          <T x={cx} y={211} size={14} w={[46, 70, 50, 184][i]} anchor="middle" fill="#777777">{label}</T>
          <T x={cx} y={237} size={24} w={[110, 57, 40, 91][i]} anchor="middle" family={MONO} fill="#666666">{kpiValues[i]}</T>
        </g>
      );
    })}
  </g>
);

const Treemap = () => (
  <g transform={`translate(${treeBox.x},${treeBox.y})`}>
    {(treeRoot.leaves() as any[]).map((leaf, i) => {
      const w = leaf.x1 - leaf.x0;
      const fill = palette[i % palette.length];
      const raw = fmt(leaf.data.value);
      const value = w < 90 ? `${raw.slice(0, 4)}...` : raw;
      return (
        <g key={leaf.data.code}>
          <rect x={leaf.x0} y={leaf.y0} width={w} height={leaf.y1 - leaf.y0} fill={fill} stroke="#ffffff" strokeWidth={1} />
          {i < labelledStates ? (
            <g>
              <Num x={leaf.x0 + 6} y={leaf.y0 + 20} fill={textOn(fill)}>{leaf.data.code}</Num>
              <Num x={leaf.x0 + 6} y={leaf.y0 + 41} fill={textOn(fill)}>{value}</Num>
            </g>
          ) : null}
        </g>
      );
    })}
  </g>
);

const MapPanel = () => (
  <g>
    <T x={718} y={293} size={19} w={260} weight={700} fill="#262626">Where are People Moving To?</T>
    <T x={1026} y={293} size={19} w={203} weight={700} fill="#262626">Relocation in Past Year</T>
    <rect x={695} y={309} width={306} height={3} fill="#1a7f4b" />
    <defs>
      <clipPath id="mapClip"><rect x={696} y={315} width={656} height={417} /></clipPath>
    </defs>
    <g clipPath="url(#mapClip)">
      <rect x={696} y={315} width={656} height={417} fill="#cfd3d8" />
      {landPolys.map((r, i) => <path key={i} d={polyD(r)} fill="#f4f4f2" />)}
      {waterPolys.map((r, i) => <path key={i} d={polyD(r)} fill="#cfd3d8" />)}
      {faintLines.map((r, i) => <path key={i} d={lineD(r)} fill="none" stroke="#e2e2e0" strokeWidth={1} />)}
      {Object.entries(statePolys).map(([code, rings]) => (
        <path
          key={code}
          d={rings.map(polyD).join('')}
          fill={choropleth(moverByCode.get(code) as number)}
          stroke="#8b8b8b"
          strokeWidth={1.4}
          strokeLinejoin="round"
        />
      ))}
    </g>
    <text x={1091} y={718} fontSize={17} fontFamily={SANS} fill="#333333" stroke="#ffffff" strokeWidth={3} paintOrder="stroke" textLength={251} lengthAdjust="spacingAndGlyphs">
      © <tspan textDecoration="underline">OpenStreetMap contributors</tspan>
    </text>
  </g>
);

const fromX = d3.scaleBand<string>().domain(fromStates).range([1447.6, 1447.6 + 39.85 * fromStates.length]).paddingInner(0.3).paddingOuter(0.15);
const fromY = d3.scaleLinear().domain([0, 12]).range([572.3, 305.7]);

const FromBars = () => (
  <g>
    <Title x={1371} y={283} w={308} text="Where Did People Move From?" />
    <defs>
      <clipPath id="fromClip"><rect x={1440} y={300} width={593} height={280} /></clipPath>
    </defs>
    <g clipPath="url(#fromClip)">
      {fromStates.map((s, i) => (
        <rect key={s} x={fromX(s)} y={fromY(fromMix[i])} width={fromX.bandwidth()} height={fromY(0) - fromY(fromMix[i])} fill="#b598d0" stroke="#cfbde0" strokeWidth={1} />
      ))}
    </g>
    {fromStates.map((s, i) => {
      const cx = (fromX(s) as number) + fromX.bandwidth() / 2;
      const inside = fromMix[i] > 9;
      return (
        <g key={s}>
          {i < fromStates.length - 1 ? (
            <T x={cx + 6} y={fromY(fromMix[i]) + (inside ? 46 : -8)} rotate={-90} family={MONO} size={18} sx={0.7} fill={inside ? '#e8dff2' : '#666666'}>
              {fromMix[i].toFixed(1)}%
            </T>
          ) : null}
          <T x={cx + 12} y={588} rotate={-38} size={18} sx={1.08} anchor="end" fill="#404040">{s}</T>
        </g>
      );
    })}
    <path d={`M1436,${fromY(12)}H1447V${fromY(0)}H1436`} fill="none" stroke="#404040" strokeWidth={2} />
    {mixTicks.map((t) => <line key={t} x1={1436} x2={1447} y1={fromY(t)} y2={fromY(t)} stroke="#404040" strokeWidth={1.6} />)}
    <T x={1407} y={500} rotate={-90} size={18} w={98} fill="#404040">Movers Mix</T>
    <Chevron x={1402} y={381} dir="right" size={5} />
    <T x={1622} y={700} size={19} w={236} fill="#404040">Mover residence 1 year ago</T>
    <rect x={1447} y={713} width={586} height={23} fill="#e2e2e2" />
    <rect x={1447} y={713} width={166} height={23} fill="#aeaeae" />
  </g>
);

const moveY = d3.scaleBand<string>().domain(moveTypes).range([864.3, 1087]).paddingInner(0.3).paddingOuter(0.15);
const moveX = d3.scaleLinear().domain([0, 18000000]).range([232, 675]);
const moveColors = [palette[1], palette[2], palette[3], palette[4]];

const MoveBars = () => (
  <g>
    <rect x={14} y={749} width={664} height={57} rx={10} fill="#424272" />
    <Reload cx={317} cy={778} r={9} color="#ffffff" />
    <T x={339} y={784} size={18} w={47} weight={700} fill="#ffffff">State</T>
    <Title x={15} y={841} w={167} text="Relocation" year="2025" />
    {moveTypes.map((m, i) => {
      const y = moveY(m) as number;
      const h = moveY.bandwidth();
      const end = moveX(moveValues[i]);
      const big = i === 0;
      return (
        <g key={m}>
          <rect x={moveX(0)} y={y} width={end - moveX(0)} height={h} fill={moveColors[i]} />
          <T x={225.5} y={y + h / 2 + 4.5} size={19} w={[156, 162, 156, 62][i]} anchor="end" fill="#404040">{m}</T>
          <Num x={big ? end - 6 : end + 6} y={y + h / 2 + 6} anchor={big ? 'end' : 'start'} fill={big ? '#e4daf2' : '#777777'}>{fmt(moveValues[i])}</Num>
        </g>
      );
    })}
    <line x1={moveX(0) - 1} x2={moveX(18000000) + 1} y1={1087} y2={1087} stroke="#404040" strokeWidth={2} />
    {moveTicks.map((t) => <line key={t} x1={moveX(t)} x2={moveX(t)} y1={1087} y2={1100} stroke="#404040" strokeWidth={1.6} />)}
    <T x={40} y={1060} rotate={-90} size={18} w={145} fill="#404040">Move Type Detail</T>
    <Chevron x={34} y={894} dir="right" size={5} />
    <T x={411} y={1142} size={19} w={63} fill="#404040">Movers</T>
    <Chevron x={494} y={1136} dir="down" size={4.5} />
  </g>
);

const tableRowH = (name: string) => (name.includes('\n') ? 58 : 35.6);
const tableCols = [973, 1144.5, 1317.5];

const MigrationTable = () => {
  let top = 875;
  return (
    <g>
      <Title x={693} y={772} w={302} text="Net Domestic Migration" year="2025" />
      <rect x={1335} y={793} width={22} height={361} fill="#f6f6f6" />
      {[820, 991.4, 1163].map((x) => <line key={x} x1={x} x2={x} y1={793} y2={1154} stroke="#e0e0e0" strokeWidth={1.6} />)}
      <line x1={692} x2={1335} y1={839} y2={839} stroke="#e0e0e0" strokeWidth={1.6} />
      <line x1={692} x2={1335} y1={875} y2={875} stroke="#666666" strokeWidth={2.5} />
      <T x={710} y={822} size={16.5} w={90} weight={700} fill="#404040">State Name</T>
      <T x={973} y={822} size={16.5} w={71} weight={700} anchor="end" fill="#404040">Moved To</T>
      <T x={1144.5} y={822} size={16.5} w={92} weight={700} anchor="end" fill="#404040">Moved From</T>
      <T x={1317.5} y={822} size={16.5} w={27} weight={700} anchor="end" fill="#404040">Net</T>
      <Burger x={836} y={816} />
      <Burger x={1179} y={816} />
      <g stroke="#595959" strokeWidth={1.2}>
        <path d="M1027,808v16M1024.5,821l2.5,3l2.5,-3" fill="none" />
        <path d="M1032,811h7M1032,815h5M1032,819h3" />
      </g>
      <T x={710} y={863} size={16.5} w={47} weight={700} fill="#404040">Totals</T>
      {tableTotals.map((v, i) => <Num key={i} x={tableCols[i]} y={863} anchor="end" weight={700} fill="#404040">{v}</Num>)}
      {tableStates.map((s, i) => {
        const y = top;
        const h = tableRowH(s);
        top += h;
        const lines = s.split('\n');
        return (
          <g key={s}>
            {lines.map((ln, k) => <T key={k} x={710} y={y + 24 + k * 23} size={16.5} sx={0.88} fill="#595959">{ln}</T>)}
            <Num x={tableCols[0]} y={y + 24} anchor="end">{fmt(movedTo[i])}</Num>
            <Num x={tableCols[1]} y={y + 24} anchor="end">{fmt(movedFrom[i])}</Num>
            <Num x={tableCols[2]} y={y + 24} anchor="end">{fmt(netMoves[i])}</Num>
            <line x1={692} x2={1335} y1={y + h} y2={y + h} stroke="#e0e0e0" strokeWidth={1.6} />
          </g>
        );
      })}
      <path d="M1346,799l5,8h-10z" fill="#8c8c8c" />
      <path d="M1346,1148l5,-8h-10z" fill="#8c8c8c" />
      <rect x={1340.5} y={819} width={11.5} height={59} rx={5} fill="#8c8c8c" />
    </g>
  );
};

const donutCx = 1702;
const donutCy = 993.3;
const pieLayout = d3.pie<number>().sort(null).value((d) => d)(reasonShares);
const ringArc = d3.arc<any>().innerRadius(88).outerRadius(128.5);
const pctArc = d3.arc<any>().innerRadius(58).outerRadius(58);
const labelArc = d3.arc<any>().innerRadius(141).outerRadius(141);

const Donut = () => (
  <g>
    <Title x={1371} y={772} w={238} text="Reasons for Move" year="2025" />
    <T x={1702} y={819} size={16} w={99} anchor="middle" fill="#404040">Move Reason</T>
    <g transform={`translate(${donutCx},${donutCy})`}>
      {pieLayout.map((slice, i) => (
        <path key={i} d={ringArc(slice) || ''} fill={palette[i % palette.length]} stroke="#ffffff" strokeWidth={0.8} />
      ))}
      {pieLayout.slice(0, reasonPctShown.length).map((slice, i) => {
        if (!reasonPctShown[i]) return null;
        const [x, y] = pctArc.centroid(slice);
        return <Num key={i} x={x} y={y + 6} anchor="middle" fill="#404040">{reasonShares[i].toFixed(1)}%</Num>;
      })}
      {reasonLabels.map((label, i) => {
        const slice = pieLayout[i];
        const [x, y] = labelArc.centroid(slice);
        const right = x > 0 && i < 5;
        const lift = label.startsWith('Attend') ? -12 : 0;
        return <T key={label} x={x} y={y + lift + 6} size={18} sx={1.015} anchor={right ? 'start' : 'end'} fill="#595959">{label}</T>;
      })}
    </g>
    <path d="M1624.6,871.7L1628.5,884M1658,1118L1657,1128" stroke="#404040" strokeWidth={1.1} />
  </g>
);

export default function App() {
  return (
    <svg width={2048} height={1170} style={{ position: 'absolute', left: 0, top: 0, display: 'block', background: '#ffffff' }}>
      <Header />
      <Title x={14} y={283} w={453} text="Which States are People Moving To in" year="2025?" yearW={67} />
      <Treemap />
      <MapPanel />
      <FromBars />
      <MoveBars />
      <MigrationTable />
      <Donut />
      <line x1={0} x2={2048} y1={1169} y2={1169} stroke="#b4bcc4" strokeWidth={2} />
    </svg>
  );
}
